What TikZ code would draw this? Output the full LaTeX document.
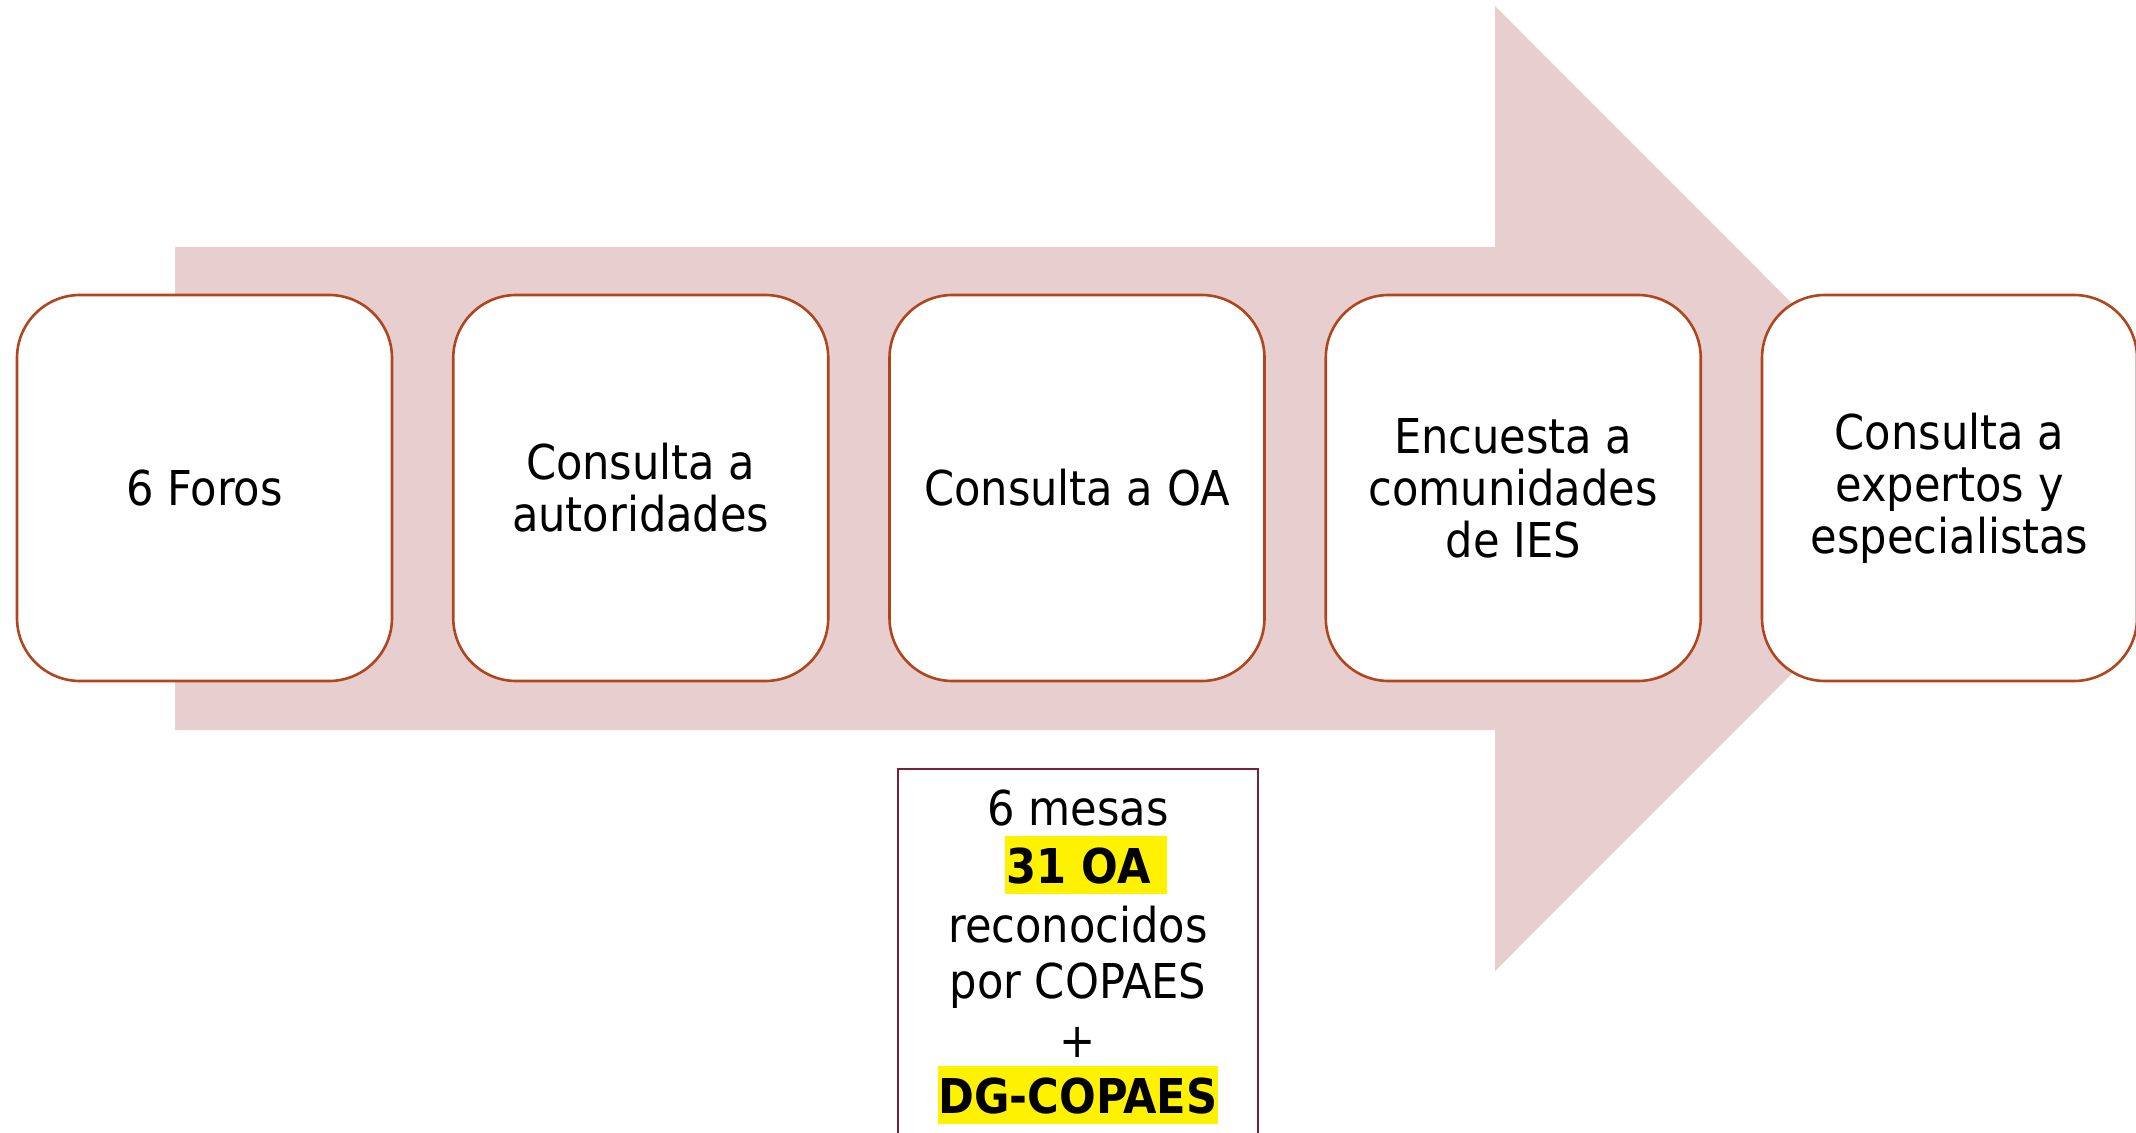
\documentclass[tikz,border=0pt]{standalone}
\usepackage{fontspec}
\setmainfont{DejaVu Sans Condensed}
\definecolor{arrowfill}{RGB}{230,207,206}
\definecolor{boxline}{RGB}{176,70,30}
\definecolor{noteborder}{RGB}{120,32,56}
\begin{document}
\begin{tikzpicture}[x=0.5pt,y=-0.5pt,
  stage/.style={draw=boxline, line width=1.3pt, fill=white, rounded corners=31.5pt,
    minimum width=187.5pt, minimum height=193pt, align=center, inner sep=0pt,
    font=\fontsize{24}{26}\selectfont},
  noteline/.style={anchor=base, inner sep=0pt, font=\fontsize{24}{29}\selectfont},
  hl/.style={anchor=base, fill=yellow, text height=23.5pt, text depth=5.25pt,
    inner xsep=0.5pt, inner ysep=0pt, font=\fontsize{24}{29}\selectfont\bfseries}]
\useasboundingbox (0,0) rectangle (2136,1133);
% big arrow
\fill[arrowfill] (175,247) -- (1495,247) -- (1495,6) -- (1977,488.5)
  -- (1495,971) -- (1495,730) -- (175,730) -- cycle;
% stages
\node[stage] (s1) at (204.5,488) {6 Foros};
\node[stage] (s2) at (640.75,488) {Consulta a\\autoridades};
\node[stage] (s3) at (1077,488) {Consulta a OA};
\node[stage] (s4) at (1513.25,488) {Encuesta a\\comunidades\\de IES};
\node[stage] (s5) at (1949.5,488) {Consulta a\\expertos y\\especialistas};
% note box
\draw[draw=noteborder, line width=1pt] (898,769) rectangle (1258,1170);
\node[noteline] (n1) at (1078,825) {6 mesas};
\node[hl, anchor=base west] (n2) at (1005,883) {31 OA\rule{8pt}{0pt}};
\node[noteline] (n3) at (1078,942) {reconocidos};
\node[noteline] (n4) at (1078,998) {por COPAES};
\node[noteline] (n5) at (1078,1057) {+};
\node[hl] (n6) at (1078,1113) {DG-COPAES};
\end{tikzpicture}
\end{document}
